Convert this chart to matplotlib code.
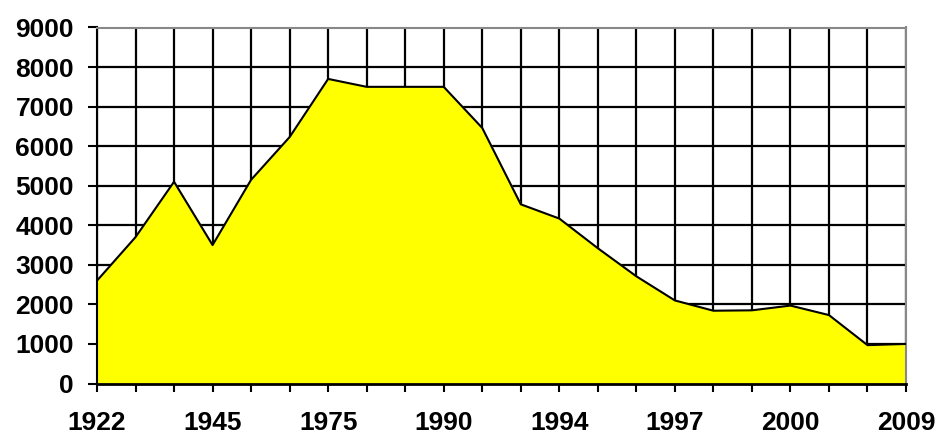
import matplotlib.pyplot as plt
import numpy as np

# values, one per category
values = [2600, 3700, 5100, 3500, 5150, 6230, 7700, 7500, 7500, 7500, 6460,
          4530, 4170, 3420, 2710, 2100, 1840, 1850, 1970, 1730, 970, 1000]
# category labels (only every third one is shown)
year_labels = {0: '1922', 3: '1945', 6: '1975', 9: '1990',
               12: '1994', 15: '1997', 18: '2000', 21: '2009'}
y_ticks = list(range(0, 10000, 1000))

plt.rcParams['font.family'] = ['Liberation Sans', 'DejaVu Sans']

fig = plt.figure(figsize=(9.38, 4.37), dpi=100)
ax = fig.add_axes([97 / 938, 1 - 383.5 / 437, (906 - 97) / 938, (383.5 - 27.5) / 437])

x = np.arange(len(values))
ax.fill_between(x, values, 0, color='#ffff00', zorder=2)
ax.plot(x, values, color='black', lw=1.5, zorder=3)

ax.set_xlim(0, len(values) - 1)
ax.set_ylim(0, 9000)

ax.set_xticks(x)
ax.set_xticklabels([year_labels.get(i, '') for i in x])
ax.set_yticks(y_ticks)
ax.set_yticklabels([str(v) for v in y_ticks])

ax.grid(True, color='black', lw=1.6, zorder=1)
ax.set_axisbelow(True)

for lab in ax.get_xticklabels() + ax.get_yticklabels():
    lab.set_fontweight('bold')
    lab.set_fontsize(19)

ax.tick_params(axis='x', direction='out', length=6, width=1.5, pad=14)
ax.tick_params(axis='y', direction='out', length=6.5, width=1.5, pad=10)

ax.spines['left'].set_linewidth(1.5)
ax.spines['bottom'].set_linewidth(2)
ax.spines['bottom'].set_zorder(4)
ax.spines['top'].set_color('#888888')
ax.spines['right'].set_color('#888888')
ax.spines['top'].set_linewidth(1.5)
ax.spines['right'].set_linewidth(1.5)

fig.savefig('out.png', dpi=100)
